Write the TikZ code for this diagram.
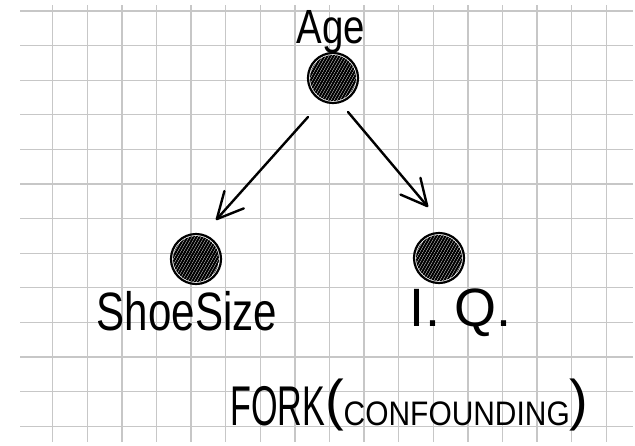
\documentclass[tikz,border=0pt]{standalone}
\usepackage{graphicx}
\usepackage{fontspec}
\setmainfont{Liberation Sans}
\usetikzlibrary{arrows.meta}
\tikzset{
  gridline/.style={draw=black!22, line width=1.3pt},
  varnode/.style={circle, draw=black, line width=2.2pt, minimum size=50pt, inner sep=0pt},
  hatchline/.style={draw=black, line width=2.1pt, line cap=round},
  arr/.style={draw=black, line width=2.4pt, line cap=round,
    -{Straight Barb[length=26pt,width=26pt,round]}},
  lbl/.style={inner sep=0pt, text=black}
}
\newcommand{\hatchat}[2]{%
  \begin{scope}[shift={(#1,#2)}]
    \clip (0,0) circle (23);
    \foreach \o in {-27,-24,...,27} {
      \draw[hatchline] (\o-17,30) -- (\o+17,-30);
    }
  \end{scope}}
\begin{document}
\begin{tikzpicture}[x=1pt,y=-1pt]
\useasboundingbox[fill=white] (0,0) rectangle (635,445);
% grid
\foreach \i in {0,...,16} {
  \draw[gridline] (52.7+34.6*\i,5) -- (52.7+34.6*\i,442);
}
\foreach \j in {0,...,12} {
  \draw[gridline] (20,11+34.6*\j) -- (633,11+34.6*\j);
}
% variables
\hatchat{333}{78}
\hatchat{196}{259}
\hatchat{439}{258}
\node[varnode] (age) at (333,78) {};
\node[varnode] (shoe) at (196,259) {};
\node[varnode] (iq) at (439,258) {};
% labels
\node[lbl, anchor=base] (agelbl) at (331,43) {\scalebox{0.8}[1]{\fontsize{48}{48}\selectfont Age}};
\node[lbl, anchor=base] (shoelbl) at (187,330) {\scalebox{0.78}[1]{\fontsize{54}{54}\selectfont ShoeSize}};
\node[lbl, anchor=base] (iqlbl) at (461,326) {\fontsize{54}{54}\selectfont I. Q.};
\node[lbl, anchor=base west] (fork) at (230,425) {%
  \scalebox{0.61}[1]{\fontsize{56}{56}\selectfont FORK}%
  \raisebox{6pt}{\fontsize{56}{56}\selectfont (}%
  \scalebox{0.88}[1]{\fontsize{34}{34}\selectfont CONFOUNDING}%
  \raisebox{6pt}{\fontsize{56}{56}\selectfont )}};
% arrows
\draw[arr] ([shift={(-25,39)}]age.center) -- ([shift={(20,-39)}]shoe.center);
\draw[arr] ([shift={(15,34)}]age.center) -- ([shift={(-11,-51)}]iq.center);
\end{tikzpicture}
\end{document}
